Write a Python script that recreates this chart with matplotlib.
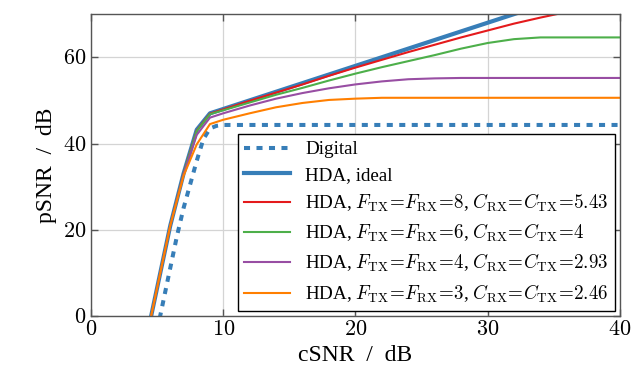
import matplotlib
matplotlib.use("Agg")
import matplotlib.pyplot as plt
import numpy as np

plt.rcParams['font.family'] = ['Liberation Serif', 'DejaVu Serif']
plt.rcParams['mathtext.fontset'] = 'cm'
plt.rcParams['xtick.top'] = True
plt.rcParams['ytick.right'] = True
plt.rcParams['xtick.direction'] = 'in'
plt.rcParams['ytick.direction'] = 'in'

# data (cSNR in dB -> pSNR in dB)
x_dig = [5, 5.5, 6, 6.5, 7, 7.5, 8, 8.5, 9, 9.5, 10, 40]
y_dig = [-3.4, 3.9, 11.2, 18.5, 25, 30.5, 36, 41, 43.5, 44.1, 44.3, 44.3]

x_hda = [4, 5, 6, 7, 8, 9, 10, 12, 14, 16, 18, 20, 22, 24, 26, 28, 30, 32, 34, 36, 38, 40]
y_ideal = [-8, 6.5, 21, 33, 43.2, 47, 48, 50, 52, 54, 56, 58, 60, 62, 64, 66, 68, 70, 72, 74, 76, 78]
y_f8 = [-8, 6.5, 21, 33, 43, 46.9, 47.9, 49.9, 51.8, 53.7, 55.7, 57.6, 59.4, 61.2, 62.9, 64.6, 66.2, 67.8, 69.2, 70.5, 71.7, 72.8]
y_f6 = [-8, 6.5, 21, 33, 42.9, 46.8, 47.7, 49.5, 51.3, 52.9, 54.6, 56.2, 57.7, 59.1, 60.5, 62, 63.3, 64.2, 64.6, 64.6, 64.6, 64.6]
y_f4 = [-8, 6.5, 21, 32.8, 42, 46, 47, 48.8, 50.4, 51.7, 52.8, 53.7, 54.4, 54.9, 55.1, 55.2, 55.2, 55.2, 55.2, 55.2, 55.2, 55.2]
y_f3 = [-8, 6.5, 21, 32.5, 39.8, 44.5, 45.5, 47, 48.4, 49.4, 50.1, 50.4, 50.6, 50.6, 50.6, 50.6, 50.6, 50.6, 50.6, 50.6, 50.6, 50.6]

labels = ['Digital', 'HDA, ideal',
          r'HDA, $F_{\mathrm{TX}}\!=\!F_{\mathrm{RX}}\!=\!8$, $C_{\mathrm{RX}}\!=\!C_{\mathrm{TX}}\!=\!5.43$',
          r'HDA, $F_{\mathrm{TX}}\!=\!F_{\mathrm{RX}}\!=\!6$, $C_{\mathrm{RX}}\!=\!C_{\mathrm{TX}}\!=\!4$',
          r'HDA, $F_{\mathrm{TX}}\!=\!F_{\mathrm{RX}}\!=\!4$, $C_{\mathrm{RX}}\!=\!C_{\mathrm{TX}}\!=\!2.93$',
          r'HDA, $F_{\mathrm{TX}}\!=\!F_{\mathrm{RX}}\!=\!3$, $C_{\mathrm{RX}}\!=\!C_{\mathrm{TX}}\!=\!2.46$']
colors = ['#377eb8', '#377eb8', '#e41a1c', '#4daf4a', '#984ea3', '#ff7f00']

fig = plt.figure(figsize=(6.35, 3.82), dpi=100)
ax = fig.add_axes([0.1433, 0.1728, 0.8327, 0.7902])

ax.plot(x_dig, y_dig, color=colors[0], lw=2.9, dashes=(1.5, 1.6), dash_capstyle='butt', label=labels[0])
ax.plot(x_hda, y_ideal, color=colors[1], lw=3.0, label=labels[1])
for yy, c, lab in zip([y_f8, y_f6, y_f4, y_f3], colors[2:], labels[2:]):
    ax.plot(x_hda, yy, color=c, lw=1.5, label=lab)

ax.set_xlim(0, 40)
ax.set_ylim(0, 70)
ax.set_xticks([0, 10, 20, 30, 40])
ax.set_yticks([0, 20, 40, 60])
ax.set_xticklabels(['$%d$' % v for v in [0, 10, 20, 30, 40]])
ax.set_yticklabels(['$%d$' % v for v in [0, 20, 40, 60]])
ax.tick_params(labelsize=16, length=5, color='#555555', width=1)
ax.grid(True, color='#d4d4d4', lw=0.9)
for s in ax.spines.values():
    s.set_color('#555555')
    s.set_linewidth(1.0)

ax.set_xlabel('cSNR  /  dB', fontsize=17)
ax.set_ylabel('pSNR  /  dB', fontsize=17)

leg = ax.legend(loc='lower right', fontsize=13.7, frameon=True, fancybox=False,
                edgecolor='black', framealpha=1, handlelength=2.4, labelspacing=0.42,
                borderaxespad=0.25, borderpad=0.35)
leg.get_frame().set_linewidth(1.0)

fig.savefig('out.png', dpi=100)
